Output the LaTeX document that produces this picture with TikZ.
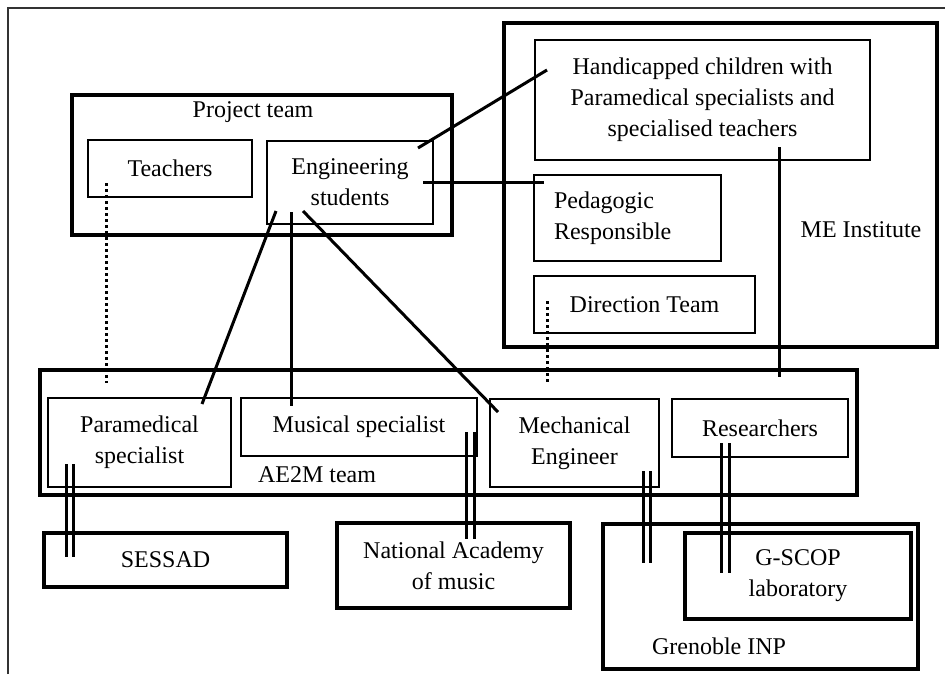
\documentclass[tikz,border=0pt]{standalone}
\usepackage{fontspec}
\setmainfont{Liberation Serif}
\usetikzlibrary{positioning}

\begin{document}
\begin{tikzpicture}[x=0.5pt, y=-0.5pt,
  every node/.style={font=\fontsize{12}{15.6}\selectfont},
  unit/.style={draw, line width=0.65pt, inner sep=0pt, align=center},
  group/.style={draw, line width=1.7pt, inner sep=0pt, align=center},
  tie/.style={line width=1.5pt},
  twin/.style={line width=1.4pt},
  dots/.style={line width=1.5pt, dash pattern=on 1.5pt off 1.5pt},
]
\useasboundingbox (0,0) rectangle (945,674);

% outer frame (cut by the page)
\draw[line width=0.6pt, black!80] (8,674) -- (8,8) -- (945,8);

% Groups
\node[group, minimum width=190pt, minimum height=70pt] (project) at (262,165) {};
\node (projectlbl) at (253,112) {Project team};
\node[group, minimum width=216.5pt, minimum height=162pt] (me) at (720.5,185) {};
\node (melbl) at (861,230) {ME Institute};
\node[group, minimum width=408.5pt, minimum height=62.5pt] (ae2m) at (448.5,432.5) {};
\node (ae2mlbl) at (317,475) {AE2M team};
\node[group, minimum width=157.5pt, minimum height=72.5pt] (inp) at (760.5,596.5) {};
\node (inplbl) at (719,646) {Grenoble INP};

% Project team
\node[unit, minimum width=82pt, minimum height=28.5pt] (teach) at (170,168.5) {Teachers};
\node[unit, minimum width=83pt, minimum height=41.5pt] (eng) at (350,182.5) {Engineering\\students};

% ME Institute
\node[unit, minimum width=167.5pt, minimum height=60pt] (hand) at (702.5,100) {Handicapped children with\\Paramedical specialists and\\specialised teachers};
\node[unit, minimum width=93.5pt, minimum height=43pt, text width=73.5pt, align=left] (ped) at (627.5,218) {Pedagogic\\Responsible};
\node[unit, minimum width=110.5pt, minimum height=28.5pt] (dir) at (644.5,304.5) {Direction Team};

% AE2M team
\node[unit, minimum width=91.5pt, minimum height=44.5pt] (para) at (139.5,442.5) {Paramedical\\specialist};
\node[unit, minimum width=118pt, minimum height=29pt] (mus) at (359,427) {Musical specialist};
\node[unit, minimum width=84.5pt, minimum height=44pt] (mech) at (574.5,443) {Mechanical\\Engineer};
\node[unit, minimum width=88pt, minimum height=29pt] (res) at (760,428) {Researchers};

% Outside partners
\node[group, minimum width=121.5pt, minimum height=27pt] (sessad) at (165.5,560) {SESSAD};
\node[group, minimum width=116.5pt, minimum height=42.5pt] (music) at (453.5,565.5) {National Academy\\of music};
\node[group, minimum width=113pt, minimum height=43pt] (gscop) at (798,576) {G-SCOP\\laboratory};

% connector ends
\coordinate (eng-a) at (418,148);  \coordinate (hand-a) at (547,70);
\coordinate (eng-b) at (423,182);  \coordinate (ped-a) at (544,182);
\coordinate (eng-c) at (276,211);  \coordinate (para-a) at (202,404);
\coordinate (eng-d) at (291,212);  \coordinate (mus-a) at (291,406);
\coordinate (eng-e) at (303,211);  \coordinate (mech-a) at (498,412);
\coordinate (hand-b) at (779,147); \coordinate (res-a) at (779,377);
\coordinate (teach-a) at (106,183); \coordinate (para-b) at (106,383);
\coordinate (dir-a) at (547,301);  \coordinate (mech-b) at (547,384);
\coordinate (para-c) at (70,464);  \coordinate (sessad-a) at (70,557);
\coordinate (mus-b) at (470.5,432); \coordinate (music-a) at (470.5,539);
\coordinate (mech-c) at (647,471); \coordinate (inp-a) at (647,563);
\coordinate (res-b) at (725.5,443); \coordinate (gscop-a) at (725.5,573);

% Links
\draw[tie] (eng-a) -- (hand-a);
\draw[tie] (eng-b) -- (ped-a);
\draw[tie] (eng-c) -- (para-a);
\draw[tie] (eng-d) -- (mus-a);
\draw[tie] (eng-e) -- (mech-a);
\draw[tie] (hand-b) -- (res-a);
\draw[dots] (teach-a) -- (para-b);
\draw[dots] (dir-a) -- (mech-b);

% double links to partners
\foreach \s in {-1.9pt,1.9pt} {
  \draw[twin] ([xshift=\s]para-c) -- ([xshift=\s]sessad-a);
  \draw[twin] ([xshift=\s]mus-b) -- ([xshift=\s]music-a);
  \draw[twin] ([xshift=\s]mech-c) -- ([xshift=\s]inp-a);
  \draw[twin] ([xshift=\s]res-b) -- ([xshift=\s]gscop-a);
}

\end{tikzpicture}
\end{document}
